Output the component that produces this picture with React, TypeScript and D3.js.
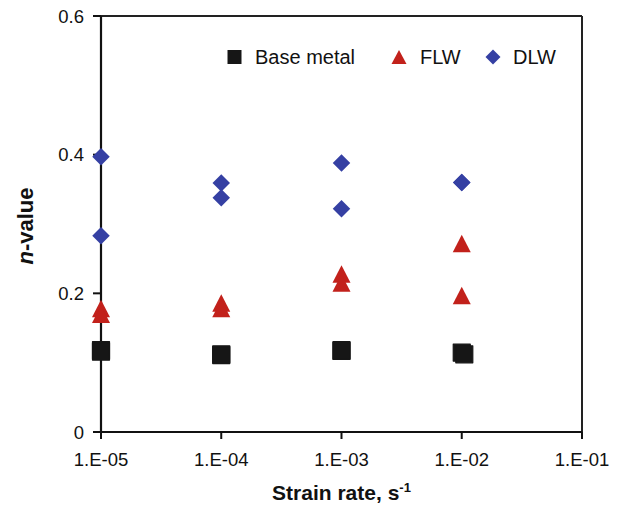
import React from "react";
import * as d3 from "d3";

const xTicks = [1e-5, 1e-4, 1e-3, 1e-2, 1e-1];
const xTickLabels = ["1.E-05", "1.E-04", "1.E-03", "1.E-02", "1.E-01"];
const yTicks = [0, 0.2, 0.4, 0.6];
const yTickLabels = ["0", "0.2", "0.4", "0.6"];

const baseRate = [1e-5, 1e-5, 1e-4, 1e-4, 1e-3, 1e-3, 1e-2, 1.05e-2];
const baseN = [0.118, 0.116, 0.112, 0.111, 0.118, 0.117, 0.1145, 0.112];
const flwRate = [1e-5, 1e-5, 1e-4, 1e-4, 1e-3, 1e-3, 1e-2, 1e-2];
const flwN = [0.178, 0.17, 0.186, 0.178, 0.228, 0.215, 0.272, 0.197];
const dlwRate = [1e-5, 1e-5, 1e-4, 1e-4, 1e-3, 1e-3, 1e-2, 1e-2];
const dlwN = [0.397, 0.283, 0.359, 0.338, 0.388, 0.322, 0.36, 0.36];

const legendNames = ["Base metal", "FLW", "DLW"];

const W = 622;
const H = 508;
const M = { left: 101, right: 582, top: 16, bottom: 432 };

const BLACK = "#161616";
const RED = "#c2211b";
const BLUE = "#3540a3";

const sq = (cx: number, cy: number, s: number) =>
  `M${cx - s / 2},${cy - s / 2}h${s}v${s}h${-s}Z`;
const tri = (cx: number, cy: number, w: number, h: number) =>
  `M${cx},${cy - h / 2}L${cx + w / 2},${cy + h / 2}L${cx - w / 2},${cy + h / 2}Z`;
const dia = (cx: number, cy: number, w: number, h: number) =>
  `M${cx},${cy - h / 2}L${cx + w / 2},${cy}L${cx},${cy + h / 2}L${cx - w / 2},${cy}Z`;

export default function App() {
  const x = d3.scaleLog().domain([1e-5, 1e-1]).range([M.left, M.right]);
  const y = d3.scaleLinear().domain([0, 0.6]).range([M.bottom, M.top]);
  const font = "'Liberation Sans', Arial, Helvetica, sans-serif";

  return (
    <svg
      width={W}
      height={H}
      style={{ position: "absolute", left: 0, top: 0, background: "#fff" }}
      fontFamily={font}
    >
      {/* frame top & right */}
      <line x1={M.left} x2={M.right} y1={M.top} y2={M.top} stroke="#222" strokeWidth={2} />
      <line x1={M.right} x2={M.right} y1={M.top} y2={M.bottom} stroke="#222" strokeWidth={2} />
      {/* axes */}
      <line x1={M.left} x2={M.left} y1={M.top} y2={M.bottom} stroke="#111" strokeWidth={2.2} />
      <line x1={M.left} x2={M.right} y1={M.bottom} y2={M.bottom} stroke="#111" strokeWidth={2.2} />

      {yTicks.map((t, i) => (
        <g key={"y" + i}>
          <line x1={M.left - 8} x2={M.left} y1={y(t)} y2={y(t)} stroke="#111" strokeWidth={2} />
          <text x={M.left - 17} y={y(t) + 6.7} textAnchor="end" fontSize={18.5} fill="#111">
            {yTickLabels[i]}
          </text>
        </g>
      ))}
      {xTicks.map((t, i) => (
        <g key={"x" + i}>
          <line x1={x(t)} x2={x(t)} y1={M.bottom} y2={M.bottom + 7} stroke="#111" strokeWidth={2} />
          <text x={x(t)} y={466} textAnchor="middle" fontSize={18.5} fill="#111">
            {xTickLabels[i]}
          </text>
        </g>
      ))}

      {/* axis titles */}
      <text x={(M.left + M.right) / 2} y={500} textAnchor="middle" fontSize={21} fontWeight="bold" fill="#111">
        Strain rate, s
        <tspan fontSize={13} dy={-8}>-1</tspan>
      </text>
      <text
        transform={`translate(33,${(M.top + M.bottom) / 2 + 2}) rotate(-90)`}
        textAnchor="middle"
        fontSize={22}
        fontWeight="bold"
        fill="#111"
      >
        <tspan fontStyle="italic">n</tspan>-value
      </text>

      {/* data */}
      {dlwRate.map((r, i) => (
        <path key={"d" + i} d={dia(x(r), y(dlwN[i]), 17.5, 17.5)} fill={BLUE} />
      ))}
      {flwRate.map((r, i) => (
        <path key={"f" + i} d={tri(x(r), y(flwN[i]), 18, 17.5)} fill={RED} />
      ))}
      {baseRate.map((r, i) => (
        <path
          key={"b" + i}
          d={sq(x(r), y(baseN[i]), 17)}
          fill={BLACK}
          stroke={BLACK}
          strokeWidth={1.2}
          strokeLinejoin="round"
        />
      ))}

      {/* legend */}
      <path d={sq(234.5, 57, 14)} fill={BLACK} />
      <text x={255} y={64} fontSize={20} fill="#111">{legendNames[0]}</text>
      <path d={tri(399, 57, 15, 14)} fill={RED} />
      <text x={420} y={64} fontSize={20} fill="#111">{legendNames[1]}</text>
      <path d={dia(493, 57, 15, 15)} fill={BLUE} />
      <text x={513} y={64} fontSize={20} fill="#111">{legendNames[2]}</text>
    </svg>
  );
}
